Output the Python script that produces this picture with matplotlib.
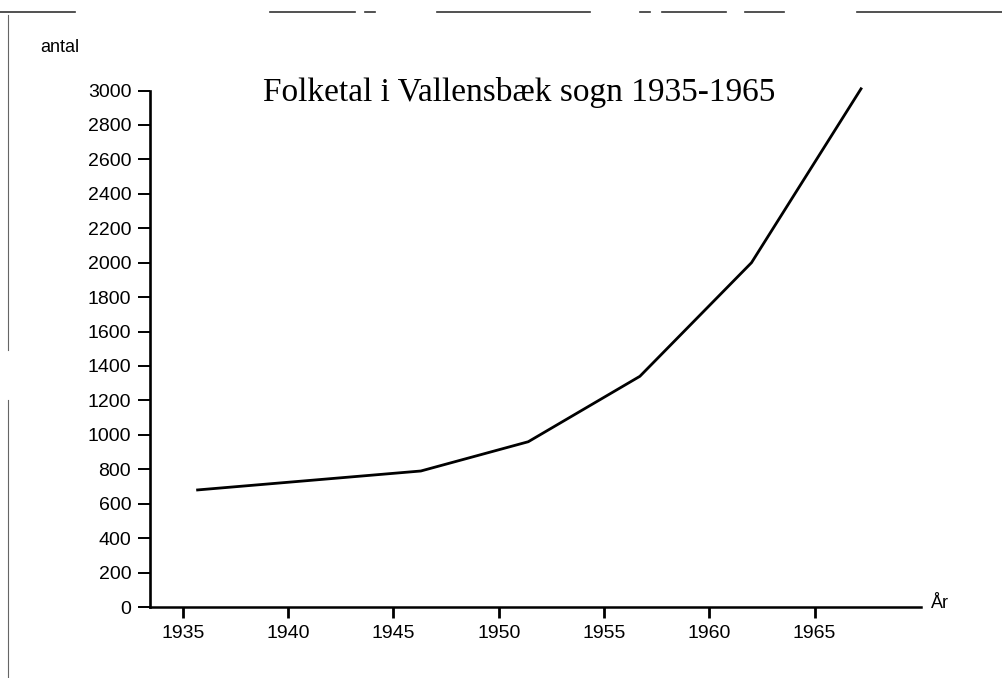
import matplotlib.pyplot as plt
from matplotlib.lines import Line2D

# Folketal i Vallensbæk sogn
years = [1935.7, 1946.3, 1951.4, 1956.7, 1962.0, 1967.2]
population = [680, 790, 960, 1340, 2000, 3010]

year_ticks = [1935, 1940, 1945, 1950, 1955, 1960, 1965]
pop_ticks = list(range(0, 3001, 200))

plt.rcParams['font.family'] = ['Liberation Sans', 'DejaVu Sans']

fig = plt.figure(figsize=(10.02, 6.78), dpi=100)
ax = fig.add_axes([0.1497, 0.1047, 0.7695, 0.7618])

ax.plot(years, population, color='black', lw=2, clip_on=False,
        solid_joinstyle='miter')

ax.set_xlim(1933.44, 1970.05)
ax.set_ylim(0, 3000)
ax.set_xticks(year_ticks)
ax.set_yticks(pop_ticks)

for side in ('top', 'right'):
    ax.spines[side].set_visible(False)
ax.spines['left'].set_linewidth(1.9)
ax.spines['bottom'].set_linewidth(1.8)

ax.tick_params(axis='y', direction='out', length=8.5, width=1.4, pad=5,
               labelsize=14)
ax.tick_params(axis='x', direction='out', length=8, width=2, pad=5,
               labelsize=14)

fig.text(40 / 1002, 1 - 48 / 678, 'antal', fontsize=13, ha='left', va='center')
fig.text(931 / 1002, 1 - 603 / 678, 'År', fontsize=13, ha='left', va='center')
fig.text(519 / 1002, 1 - 92 / 678, 'Folketal i Vallensbæk sogn 1935-1965',
         family=['Liberation Serif', 'DejaVu Serif'], fontsize=24,
         ha='center', va='center')

# kanter fra den skannede side
edge = dict(color='#333333', lw=1.2, transform=None)
for x0, x1 in [(0, 75), (270, 355), (365, 375), (437, 590), (640, 650),
               (662, 726), (745, 784), (857, 1002)]:
    fig.add_artist(Line2D([x0, x1], [678 - 12, 678 - 12], **edge))
for y0, y1 in [(15, 350), (400, 678)]:
    fig.add_artist(Line2D([8, 8], [678 - y0, 678 - y1], color='#666666',
                          lw=0.8, transform=None))

fig.savefig('out.png', dpi=100)
